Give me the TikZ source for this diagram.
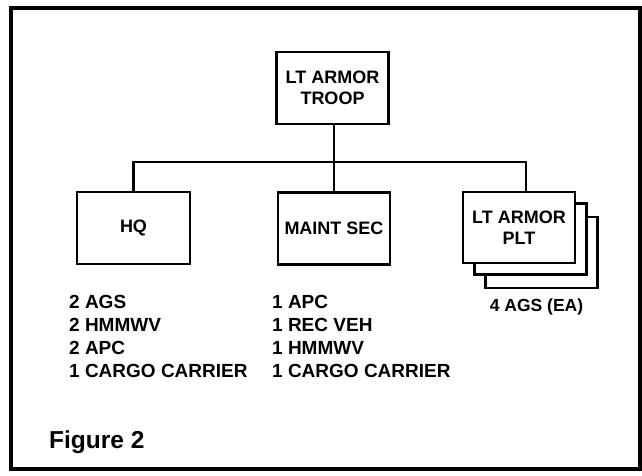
\documentclass[tikz,border=0pt]{standalone}
\usepackage{fontspec}
\setmainfont{Liberation Sans}
\begin{document}
\begin{tikzpicture}[x=1pt,y=-1pt,
  box/.style={draw,line width=2.6pt,fill=white,minimum width=112pt,minimum height=72pt,inner sep=0pt,align=center,font=\fontsize{18}{21}\selectfont\bfseries},
  conn/.style={line width=2.6pt},
  lst/.style={anchor=north west,align=left,inner sep=0pt,font=\fontsize{19}{23}\selectfont\bfseries}]
\useasboundingbox (0,0) rectangle (642,476);
\draw[line width=4pt] (11,8) rectangle (639.5,469);
\node[box] (troop) at (332.5,88) {LT ARMOR\\TROOP};
\node[box,minimum width=113pt] (hq) at (133.5,228) {HQ};
\node[box] (maint) at (334,228.5) {MAINT SEC};
\node[box,minimum height=71pt] (plt3) at (541.5,252.5) {};
\node[box,minimum height=71pt] (plt2) at (530.5,239) {};
\node[box,minimum height=71pt] (plt) at (519,227.5) {LT ARMOR\\PLT};
\coordinate (bus) at (334,162);
\coordinate (pltin) at (526,192);
\draw[conn] (troop.south -| bus) -- (bus);
\draw[conn] (hq.north) |- (pltin |- bus) -- (pltin);
\draw[conn] (maint.north -| bus) -- (bus);
\node[lst] (hqlist) at (69,295) {2 AGS\\2 HMMWV\\2 APC\\1 CARGO CARRIER};
\node[lst] (mlist) at (272,295) {1 APC\\1 REC VEH\\1 HMMWV\\1 CARGO CARRIER};
\node[anchor=base,font=\fontsize{17.5}{20}\selectfont\bfseries,inner sep=0pt] (ags) at (536.5,311) {4 AGS (EA)};
\node[anchor=base west,inner sep=0pt,font=\fontsize{24.5}{28}\selectfont\bfseries] (fig) at (49,448) {Figure 2};
\end{tikzpicture}
\end{document}
